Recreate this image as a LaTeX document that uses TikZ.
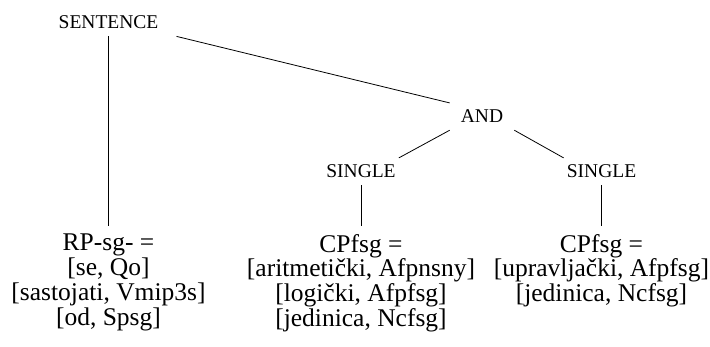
\documentclass[tikz,border=0pt]{standalone}
\usepackage{fontspec}
\setmainfont{Liberation Serif}
\usetikzlibrary{positioning}

\begin{document}
\begin{tikzpicture}[
    x=1pt, y=-1pt,
    tag/.style={
        font=\fontsize{19.5}{22}\selectfont,
        anchor=base,
        inner xsep=4pt,
        inner ysep=7pt
    },
    leaf/.style={
        font=\fontsize{25.5}{24.8}\selectfont,
        align=center,
        anchor=north,
        inner xsep=2pt,
        inner ysep=8pt
    },
    edge/.style={draw, line width=0.8pt}
]
\useasboundingbox (0,0) rectangle (710,347);

\node[tag, inner xsep=18pt] (sentence) at (108.5,29) {SENTENCE};
\node[tag, inner xsep=11pt] (and) at (482,123) {AND};
\node[tag, inner xsep=3pt] (singleL) at (361,178) {SINGLE};
\node[tag, inner xsep=3pt] (singleR) at (601.5,178) {SINGLE};

\node[leaf] (leafA) at (108.5,226) {RP-sg- =\\{[se, Qo]}\\{[sastojati, Vmip3s]}\\{[od, Spsg]}};
\node[leaf] (leafB) at (361,226) {CPfsg =\\{[aritmetički, Afpnsny]}\\{[logički, Afpfsg]}\\{[jedinica, Ncfsg]}};
\node[leaf] (leafC) at (601.5,226) {CPfsg =\\{[upravljački, Afpfsg]}\\{[jedinica, Ncfsg]}};

\draw[edge] (sentence.south) -- (leafA.north);
\draw[edge] (sentence.south east) -- (and.north west);
\draw[edge] (and.south west) -- (singleL.north east);
\draw[edge] (and.south east) -- (singleR.north west);
\draw[edge] (singleL.south) -- (leafB.north);
\draw[edge] (singleR.south) -- (leafC.north);

\end{tikzpicture}
\end{document}
